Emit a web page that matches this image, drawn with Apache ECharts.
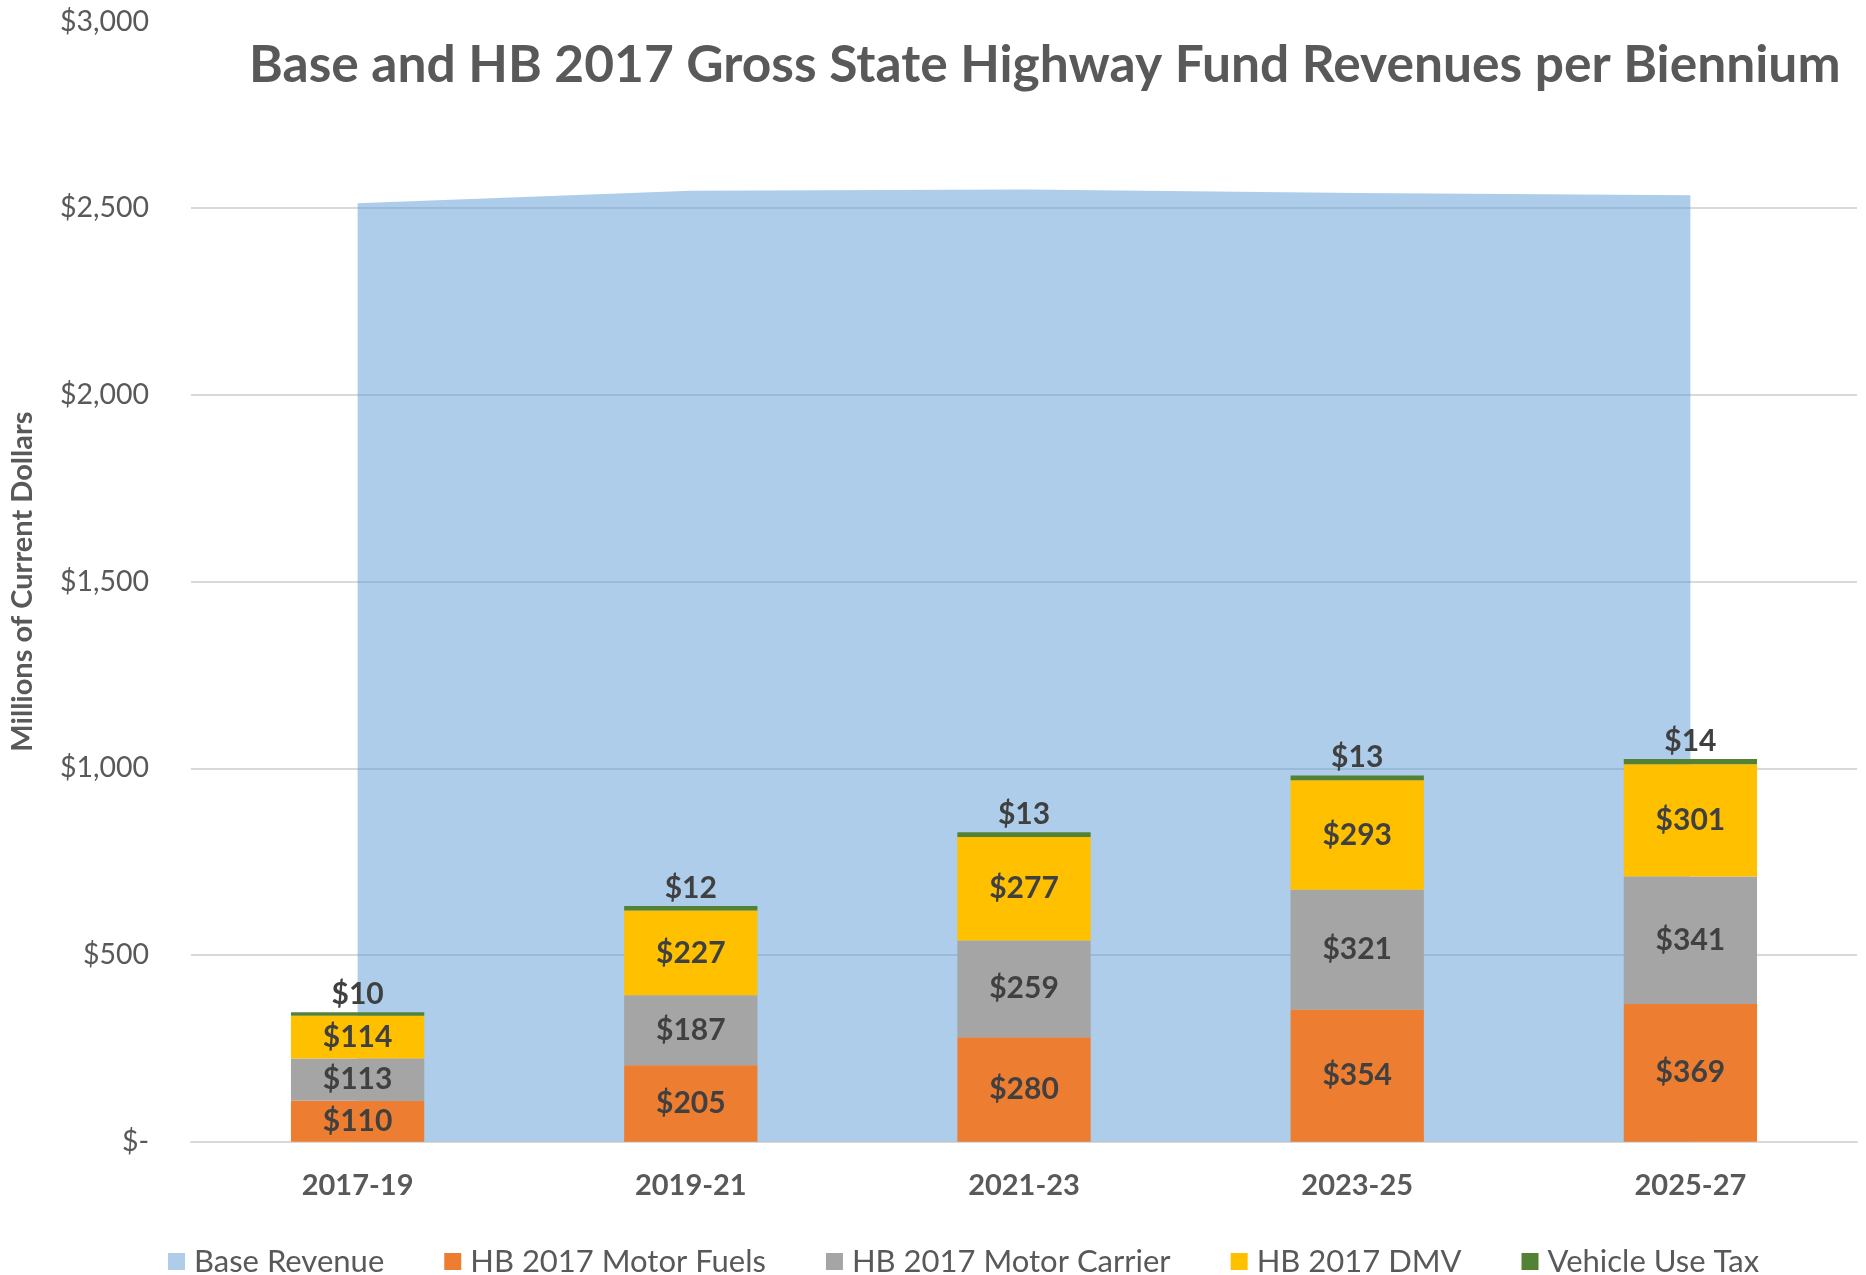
<!DOCTYPE html>
<html>
<head>
<meta charset="utf-8">
<title>Gross State Highway Fund Revenues</title>
<script src="https://cdn.jsdelivr.net/npm/echarts@6/dist/echarts.min.js"></script>
<style>
  html, body { margin: 0; padding: 0; background: #fff; }
  #main { width: 1866px; height: 1275px; }
</style>
</head>
<body>
<div id="main"></div>
<script>
// biennium categories
var biennia = ['2017-19', '2019-21', '2021-23', '2023-25', '2025-27'];

// millions of current dollars
var baseRevenue = [2513, 2547, 2550, 2541, 2535];
var motorFuels = [110, 205, 280, 354, 369];
var motorCarrier = [113, 187, 259, 321, 341];
var dmv = [114, 227, 277, 293, 301];
var vehicleUseTax = [10, 12, 13, 13, 14];

var yTicks = [0, 500, 1000, 1500, 2000, 2500, 3000];

var FONT = 'Lato, "Open Sans", sans-serif';
var TXT = '#595959';
var LBL = '#404040';

function money(v) {
    if (v === 0) return '$-';
    return '$' + v.toString().replace(/\B(?=(\d{3})+(?!\d))/g, ',');
}

var chart = echarts.init(document.getElementById('main'));

function barSeries(name, data, color, pos) {
    return {
        name: name,
        type: 'bar',
        stack: 'hb',
        barWidth: '40%',
        data: data,
        z: 3,
        itemStyle: { color: color },
        label: {
            show: true,
            position: pos,
            formatter: function (p) { return '$' + p.value; },
            color: LBL,
            fontFamily: FONT,
            fontWeight: 'bold',
            fontSize: 30,
            distance: 3
        }
    };
}

chart.setOption({
    textStyle: { fontFamily: FONT },
    title: {
        text: 'Base and HB 2017 Gross State Highway Fund Revenues per Biennium',
        left: 244,
        top: 34,
        textStyle: {
            color: TXT,
            fontFamily: FONT,
            fontWeight: 'bold',
            fontSize: 51.5
        }
    },
    legend: {
        left: 163,
        top: 1241,
        itemWidth: 17,
        itemHeight: 17,
        itemGap: 60,
        icon: 'rect',
        textStyle: { color: TXT, fontSize: 31, fontFamily: FONT, padding: [0, 0, 0, 4] },
        data: ['Base Revenue', 'HB 2017 Motor Fuels', 'HB 2017 Motor Carrier', 'HB 2017 DMV', 'Vehicle Use Tax']
    },
    grid: {
        left: 190,
        right: 9,
        top: 21.5,
        bottom: 133.3
    },
    xAxis: {
        type: 'category',
        data: biennia,
        axisLine: { lineStyle: { color: '#D9D9D9', width: 2 } },
        axisTick: { show: false },
        axisLabel: {
            color: TXT,
            fontWeight: 'bold',
            fontSize: 29,
            margin: 29,
            fontFamily: FONT
        }
    },
    yAxis: {
        type: 'value',
        min: yTicks[0],
        max: yTicks[yTicks.length - 1],
        interval: 500,
        name: 'Millions of Current Dollars',
        nameLocation: 'middle',
        nameGap: 154,
        nameTextStyle: {
            color: TXT,
            fontWeight: 'bold',
            fontSize: 29,
            fontFamily: FONT
        },
        axisLine: { show: false },
        axisTick: { show: false },
        splitLine: { showMaxLine: false, lineStyle: { color: '#D9D9D9', width: 2 } },
        axisLabel: {
            color: TXT,
            fontSize: 28.5,
            margin: 42,
            fontFamily: FONT,
            formatter: money
        }
    },
    series: [
        {
            name: 'Base Revenue',
            type: 'line',
            data: baseRevenue,
            z: 1,
            showSymbol: false,
            symbol: 'none',
            lineStyle: { width: 0 },
            itemStyle: { color: '#AFCCE9' },
            areaStyle: { color: '#5B9BD5', opacity: 0.5 }
        },
        barSeries('HB 2017 Motor Fuels', motorFuels, '#ED7D31', 'inside'),
        barSeries('HB 2017 Motor Carrier', motorCarrier, '#A5A5A5', 'inside'),
        barSeries('HB 2017 DMV', dmv, '#FFC000', 'inside'),
        barSeries('Vehicle Use Tax', vehicleUseTax, '#548235', 'top')
    ]
});
</script>
</body>
</html>
